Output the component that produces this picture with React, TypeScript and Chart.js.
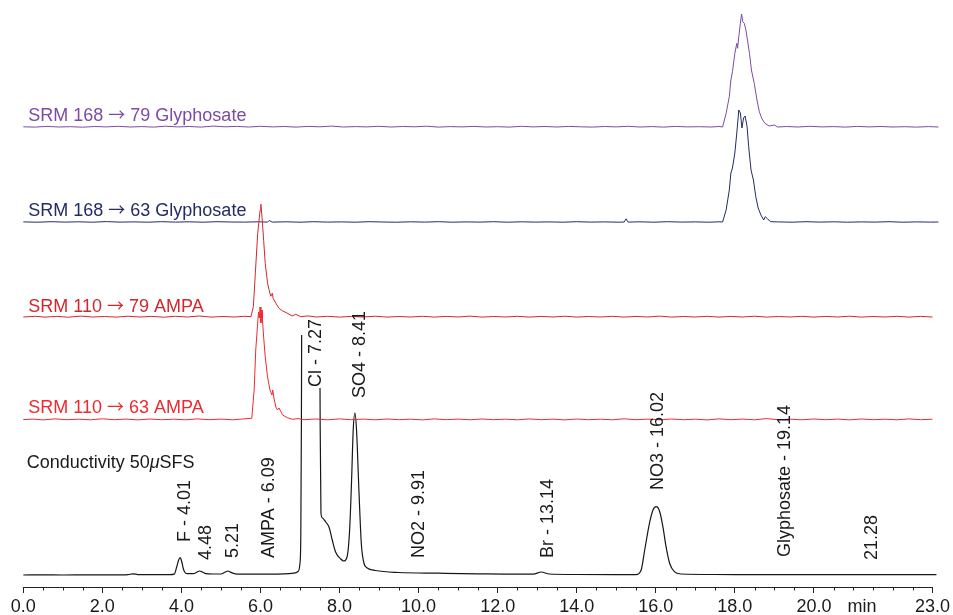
import React, { useEffect, useRef } from 'react';
import { Chart, registerables } from 'chart.js';

Chart.register(...registerables);

const FONT = '"Liberation Sans", Arial, Helvetica, sans-serif';
const ARROW_FONT = '"Noto Sans CJK JP", "DejaVu Sans", sans-serif';

// x axis ticks (minutes)
const majorTicks = [0, 2, 4, 6, 8, 10, 12, 14, 16, 18, 20, 23];
const unitLabelAt = 21.22;
const minorStep = 0.5;

// baseline (vertical offset) of each stacked trace, in plot units
const offsetCond = 12;
const offsetAmpa63 = 167;
const offsetAmpa79 = 269.7;
const offsetGly63 = 364.7;
const offsetGly79 = 459.7;

// Conductivity trace [time, signal]
const conductivity: [number, number][] = [
  [0, 0], [0.5, 0.1], [1.0, 0], [1.5, 0.1], [2.0, 0.2], [2.5, 0.2], [2.65, 0.4], [2.77, 1.2], [2.9, 0.4],
  [3.3, 0.3], [3.7, 0.4], [3.82, 0.9], [3.88, 8], [3.93, 15], [3.97, 17.3], [4.01, 13], [4.05, 6], [4.09, 2.5],
  [4.14, 1.4], [4.3, 1.3], [4.4, 3], [4.46, 4], [4.53, 3], [4.62, 1.4], [4.8, 1.0], [5.0, 1.0], [5.1, 2.8],
  [5.18, 4], [5.25, 2.6], [5.36, 1.2], [5.7, 0.9], [6.2, 0.9], [6.6, 1.1], [6.85, 1.8], [6.95, 3.5], [7.0, 12],
  [7.02, 40], [7.035, 150], [7.05, 320], [7.49, 320], [7.51, 150], [7.53, 62], [7.57, 57], [7.65, 53],
  [7.733, 48], [7.816, 35], [7.9, 23], [8.03, 16], [8.11, 14], [8.19, 18], [8.255, 45], [8.305, 95],
  [8.346, 145], [8.389, 162], [8.43, 145], [8.49, 85], [8.55, 32], [8.616, 12], [8.7, 7], [8.91, 4.5],
  [9.5, 2.5], [10.5, 1.8], [11.5, 1.2], [12.5, 0.8], [12.9, 0.8], [13.1, 3], [13.3, 1.0], [14, 0.5],
  [15, 0.4], [15.5, 0.4], [15.63, 5], [15.72, 25], [15.84, 51.7], [15.93, 65], [16.01, 68.3], [16.10, 63.3],
  [16.18, 48.3], [16.26, 28.3], [16.35, 11.7], [16.47, 3.3], [16.64, 1], [17.5, 0.5], [19, 0.4], [20.5, 0.4],
  [22, 0.3], [23.1, 0.3],
];

// SRM 110 -> 63 AMPA
const ampa63: [number, number][] = [
  [0, 0.4], [0.25, 0.9], [0.5, 0.1], [0.8, 1.1], [1.1, 0.3], [1.4, 0.8], [1.7, 0.2], [2.0, 1.2], [2.3, 0.3],
  [2.6, 0.9], [2.9, 0.1], [3.2, 1.0], [3.5, 0.3], [3.8, 0.8], [4.1, 0.2], [4.4, 1.1], [4.7, 0.3], [5.0, 0.9],
  [5.3, 0.2], [5.55, 1.0], [5.78, 1.7], [5.84, 30], [5.88, 70], [5.93, 97], [5.95, 108], [5.97, 102],
  [5.99, 113], [6.01, 97], [6.04, 110], [6.05, 100], [6.08, 83], [6.12, 63], [6.18, 43], [6.24, 30],
  [6.29, 25], [6.31, 30], [6.34, 22], [6.39, 13], [6.43, 10], [6.47, 12], [6.56, 5], [6.68, 2.3], [6.81, 0.7],
  [6.95, 1.4], [7.1, 0.3], [7.4, 1.0], [7.7, 0.2], [8.0, 1.1], [8.3, 0.3], [8.6, 0.9], [8.9, 0.2], [9.2, 1.0],
  [9.5, 0.3], [9.8, 0.8], [10.1, 0.1], [10.4, 1.1], [10.7, 0.3], [11.0, 0.9], [11.3, 0.2], [11.6, 1.0],
  [11.9, 0.3], [12.2, 0.8], [12.5, 0.2], [12.8, 1.1], [13.1, 0.3], [13.4, 0.9], [13.7, 0.1], [14.0, 1.0],
  [14.3, 0.3], [14.6, 0.8], [14.9, 0.2], [15.2, 1.2], [15.5, 0.3], [15.8, 0.9], [16.1, 0.2], [16.4, 1.0],
  [16.7, 0.3], [17.0, 0.8], [17.3, 0.1], [17.6, 1.1], [17.9, 0.3], [18.2, 0.9], [18.5, 0.2], [18.8, 1.4],
  [19.1, 0.3], [19.4, 0.8], [19.7, 0.2], [20.0, 1.0], [20.3, 0.3], [20.6, 0.9], [20.9, 0.1], [21.2, 1.0],
  [21.5, 0.3], [21.8, 0.8], [22.1, 0.2], [22.4, 1.1], [22.7, 0.3], [23.0, 0.8], [23.15, 0.4],
];

// SRM 110 -> 79 AMPA
const ampa79: [number, number][] = [
  [0, 0.3], [0.3, 1.0], [0.55, 0.2], [0.85, 0.9], [1.15, 0.1], [1.45, 1.2], [1.75, 0.3], [2.05, 0.8],
  [2.35, 0.2], [2.65, 1.1], [2.95, 0.3], [3.25, 0.9], [3.55, 0.1], [3.85, 1.0], [4.15, 0.3], [4.45, 1.3],
  [4.75, 0.2], [5.05, 0.8], [5.35, 0.3], [5.6, 1.0], [5.76, 0.6], [5.82, 10.6], [5.87, 44], [5.93, 84],
  [5.99, 107], [6.01, 113], [6.04, 100], [6.08, 77], [6.12, 54], [6.18, 34], [6.22, 27], [6.26, 21],
  [6.30, 24], [6.32, 19], [6.39, 14], [6.47, 9], [6.55, 6.6], [6.67, 4.3], [6.80, 1.3], [6.89, 3], [7.02, 0.6],
  [7.2, 1.4], [7.4, 0.3], [7.7, 1.0], [8.0, 0.2], [8.3, 0.9], [8.6, 0.3], [8.9, 1.1], [9.2, 0.2], [9.5, 0.8],
  [9.8, 0.3], [10.1, 1.0], [10.4, 0.2], [10.7, 0.9], [11.0, 0.3], [11.3, 1.2], [11.6, 0.2], [11.9, 0.8],
  [12.2, 0.3], [12.5, 1.0], [12.8, 0.2], [13.1, 0.9], [13.4, 0.3], [13.7, 1.1], [14.0, 0.2], [14.3, 0.8],
  [14.6, 0.3], [14.9, 1.0], [15.2, 0.2], [15.5, 0.9], [15.8, 0.3], [16.1, 1.2], [16.4, 0.2], [16.7, 0.8],
  [17.0, 0.3], [17.3, 1.0], [17.6, 0.2], [17.9, 0.9], [18.2, 0.3], [18.5, 1.1], [18.8, 0.2], [19.1, 0.8],
  [19.4, 0.3], [19.7, 1.0], [20.0, 0.2], [20.3, 0.9], [20.6, 0.3], [20.9, 1.1], [21.2, 0.2], [21.5, 0.8],
  [21.8, 0.3], [22.1, 1.0], [22.4, 0.2], [22.7, 0.9], [23.0, 0.3], [23.15, 0.5],
];

// SRM 168 -> 63 Glyphosate
const gly63: [number, number][] = [
  [0, 0.4], [0.35, 0.1], [0.7, 0.6], [1.05, 0.2], [1.4, 0.5], [1.75, 0.1], [2.1, 0.7], [2.45, 0.2], [2.8, 0.4],
  [3.15, 0.1], [3.5, 0.6], [3.85, 0.2], [4.2, 0.5], [4.55, 0.1], [4.9, 0.6], [5.25, 0.3], [5.6, 0.2],
  [5.95, 0.5], [6.18, 0.2], [6.22, 1.8], [6.3, 0.2], [6.65, 0.5], [7.0, 0.1], [7.35, 0.6], [7.7, 0.2],
  [8.05, 0.4], [8.4, 0.1], [8.75, 0.6], [9.1, 0.3], [9.45, 0.1], [9.8, 0.5], [10.15, 0.2], [10.5, 0.6],
  [10.85, 0.1], [11.2, 0.4], [11.55, 0.2], [11.9, 0.6], [12.25, 0.1], [12.6, 0.5], [12.95, 0.2], [13.3, 0.4],
  [13.65, 0.1], [14.0, 0.6], [14.35, 0.2], [14.7, 0.4], [15.05, 0.1], [15.2, 0.3], [15.25, 3.5], [15.3, 0.2],
  [15.6, 0.5], [15.95, 0.1], [16.3, 0.6], [16.65, 0.2], [17.0, 0.4], [17.35, 0.1], [17.6, 0.5],
  [17.69, 0.3], [17.78, 12.3], [17.86, 32.3], [17.90, 49.3], [17.94, 54.3], [18.00, 69.3], [18.05, 89.3],
  [18.10, 112.3], [18.14, 109.3], [18.18, 94.3], [18.22, 104.3], [18.26, 106.3], [18.31, 95.6], [18.35, 75.6],
  [18.41, 52.3], [18.47, 42.3], [18.53, 25.6], [18.59, 14.3], [18.66, 7.3], [18.73, 2.3], [18.77, 5.6],
  [18.83, 3.3], [18.91, 0.6], [19.1, 0.4], [19.45, 0.1], [19.8, 0.6], [20.15, 0.2], [20.5, 0.5], [20.85, 0.1],
  [21.2, 0.4], [21.55, 0.2], [21.9, 0.6], [22.25, 0.1], [22.6, 0.4], [22.95, 0.2], [23.15, 0.3],
];

// SRM 168 -> 79 Glyphosate
const gly79: [number, number][] = [
  [0, 0.5], [0.3, 0.2], [0.6, 0.9], [0.9, 0.3], [1.2, 0.6], [1.5, 0.1], [1.8, 0.8], [2.1, 0.4], [2.4, 1.0],
  [2.7, 0.3], [3.0, 0.7], [3.3, 0.2], [3.6, 1.1], [3.9, 0.4], [4.2, 0.8], [4.5, 0.2], [4.8, 1.2], [5.1, 0.5],
  [5.4, 0.9], [5.7, 0.3], [6.0, 1.0], [6.3, 0.4], [6.6, 0.8], [6.9, 0.2], [7.2, 0.9], [7.5, 0.5], [7.8, 1.2],
  [8.1, 0.3], [8.4, 0.7], [8.7, 0.4], [9.0, 1.0], [9.3, 0.3], [9.6, 0.8], [9.9, 0.5], [10.2, 1.1], [10.5, 0.2],
  [10.8, 0.7], [11.1, 0.4], [11.4, 0.9], [11.7, 0.3], [12.0, 0.6], [12.3, 0.2], [12.6, 1.0], [12.9, 0.4],
  [13.2, 0.8], [13.5, 0.3], [13.8, 0.9], [14.1, 0.5], [14.4, 0.2], [14.7, 0.8], [15.0, 0.4], [15.3, 1.0],
  [15.6, 0.3], [15.9, 0.7], [16.2, 0.2], [16.5, 0.9], [16.8, 0.4], [17.1, 0.6], [17.4, 0.3], [17.6, 0.8],
  [17.69, 0.3], [17.78, 14], [17.86, 30.6], [17.90, 47.3], [17.94, 55.6], [18.00, 74], [18.05, 84],
  [18.07, 79], [18.10, 90.6], [18.14, 104], [18.17, 113.3], [18.20, 105.6], [18.24, 104], [18.28, 97.3],
  [18.32, 87.3], [18.37, 74], [18.42, 57.3], [18.49, 44], [18.56, 27.3], [18.62, 15.6], [18.68, 9],
  [18.76, 4], [18.87, 1.3], [19.0, 2.3], [19.08, 0.3], [19.3, 0.8], [19.6, 0.3], [19.9, 1.0], [20.2, 0.4],
  [20.5, 0.7], [20.8, 0.2], [21.1, 0.9], [21.4, 0.4], [21.7, 0.8], [22.0, 0.3], [22.3, 0.6], [22.6, 0.2],
  [22.9, 0.7], [23.15, 0.3],
];

const colCond = '#161616';
const colAmpa63 = '#ee2a30';
const colAmpa79 = '#d3262d';
const colGly63 = '#232b68';
const colGly79 = '#7d4aa6';

// trace titles: [before arrow, after arrow, time, plot-y, colour]
const traceTitles: [string, string, number, number, string][] = [
  ['SRM 168 ', ' 79 Glyphosate', 0.126, 466, colGly79],
  ['SRM 168 ', ' 63 Glyphosate', 0.126, 371, colGly63],
  ['SRM 110 ', ' 79 AMPA', 0.126, 275, colAmpa79],
  ['SRM 110 ', ' 63 AMPA', 0.126, 174, colAmpa63],
];
const arrowGlyph = '→';
const condTitle = ['Conductivity 50', 'μ', 'SFS'];
const condTitlePos: [number, number] = [0.085, 119.3];

// peak annotations: [text, time, plot-y of text start]
const peakLabels: [string, number, number][] = [
  ['F - 4.01', 4.10, 45],
  ['4.48', 4.61, 27],
  ['5.21', 5.31, 29],
  ['AMPA - 6.09', 6.22, 29],
  ['Cl - 7.27', 7.398, 200],
  ['SO4 - 8.41', 8.53, 189],
  ['NO2 - 9.91', 10.0, 29],
  ['Br - 13.14', 13.28, 29],
  ['NO3 - 16.02', 16.05, 97],
  ['Glyphosate - 19.14', 19.28, 30],
  ['21.28', 21.47, 27],
];

const annotPlugin = {
  id: 'annot',
  afterDatasetDraw(chart: any, args: any) {
    if (args.index !== 0) return;
    const ctx = chart.ctx;
    const xs = chart.scales.x;
    const ys = chart.scales.y;
    ctx.save();
    ctx.font = `18px ${FONT}`;
    ctx.fillStyle = '#ffffff';
    for (const [text, t, v] of peakLabels) {
      const w = ctx.measureText(text).width;
      const cx = xs.getPixelForValue(t);
      const by = ys.getPixelForValue(v);
      ctx.fillRect(cx - 7, by - w - 1, 14, w + 2);
    }
    ctx.restore();
  },
  afterDatasetsDraw(chart: any) {
    const ctx = chart.ctx;
    const xs = chart.scales.x;
    const ys = chart.scales.y;
    const area = chart.chartArea;
    ctx.save();
    ctx.textAlign = 'left';
    ctx.textBaseline = 'alphabetic';
    for (const [a, b, t, v, c] of traceTitles) {
      ctx.fillStyle = c;
      let x = xs.getPixelForValue(t);
      const y = ys.getPixelForValue(v);
      ctx.font = `18px ${FONT}`;
      ctx.fillText(a, x, y);
      x += ctx.measureText(a).width;
      ctx.font = `17px ${ARROW_FONT}`;
      ctx.fillText(arrowGlyph, x, y);
      x += ctx.measureText(arrowGlyph).width;
      ctx.font = `18px ${FONT}`;
      ctx.fillText(b, x, y);
    }
    // conductivity title with italic mu
    let x = xs.getPixelForValue(condTitlePos[0]);
    const y = ys.getPixelForValue(condTitlePos[1]);
    ctx.fillStyle = '#1a1a1a';
    condTitle.forEach((part, i) => {
      ctx.font = i === 1 ? `italic 18px ${FONT}` : `18px ${FONT}`;
      ctx.fillText(part, x, y);
      x += ctx.measureText(part).width;
    });
    // rotated peak labels
    ctx.font = `18px ${FONT}`;
    ctx.fillStyle = '#1a1a1a';
    ctx.textBaseline = 'middle';
    for (const [text, t, v] of peakLabels) {
      ctx.save();
      ctx.translate(xs.getPixelForValue(t), ys.getPixelForValue(v));
      ctx.rotate(-Math.PI / 2);
      ctx.fillText(text, 0, 0);
      ctx.restore();
    }
    // minor ticks
    ctx.strokeStyle = '#222';
    ctx.lineWidth = 1;
    ctx.beginPath();
    for (let t = 0; t <= 23 + 1e-9; t += minorStep) {
      if (majorTicks.some((m) => Math.abs(m - t) < 1e-6)) continue;
      const px = Math.round(xs.getPixelForValue(t)) + 0.5;
      ctx.moveTo(px, area.bottom);
      ctx.lineTo(px, area.bottom + 3.5);
    }
    ctx.stroke();
    ctx.restore();
  },
};

export default function App() {
  const ref = useRef<HTMLCanvasElement>(null);
  useEffect(() => {
    const canvas = ref.current;
    if (!canvas) return;
    const mk = (pts: [number, number][], off: number) => pts.map(([x, y]) => ({ x, y: y + off }));
    const softClip = { left: 5, right: 10, top: 20, bottom: 5 };
    const chart = new Chart(canvas, {
      type: 'line',
      data: {
        datasets: [
          {
            label: 'Conductivity',
            data: mk(conductivity, offsetCond),
            borderColor: colCond,
            borderWidth: 1.2,
            cubicInterpolationMode: 'monotone',
            order: 10,
            clip: { left: 5, right: 10, top: -325, bottom: 5 },
          },
          { label: 'SRM 110 → 63 AMPA', data: mk(ampa63, offsetAmpa63), borderColor: colAmpa63, borderWidth: 1, tension: 0, order: 1, clip: softClip },
          { label: 'SRM 110 → 79 AMPA', data: mk(ampa79, offsetAmpa79), borderColor: colAmpa79, borderWidth: 1, tension: 0, order: 2, clip: softClip },
          { label: 'SRM 168 → 63 Glyphosate', data: mk(gly63, offsetGly63), borderColor: colGly63, borderWidth: 1, tension: 0, order: 3, clip: softClip },
          { label: 'SRM 168 → 79 Glyphosate', data: mk(gly79, offsetGly79), borderColor: colGly79, borderWidth: 1, tension: 0, order: 4, clip: softClip },
        ] as any,
      },
      options: {
        animation: false,
        responsive: true,
        maintainAspectRatio: false,
        layout: { padding: { left: 23.3, right: 19, top: 10, bottom: 0 } },
        elements: { point: { radius: 0, hoverRadius: 0 }, line: { fill: false } },
        plugins: { legend: { display: false }, tooltip: { enabled: false } },
        events: [],
        scales: {
          x: {
            type: 'linear',
            min: 0,
            max: 23,
            afterBuildTicks: (s: any) => {
              s.ticks = [...majorTicks, unitLabelAt].sort((a, b) => a - b).map((v) => ({ value: v }));
            },
            afterFit: (s: any) => {
              s.height = 28;
            },
            ticks: {
              autoSkip: false,
              maxRotation: 0,
              padding: 3,
              color: '#1a1a1a',
              font: { family: FONT, size: 18 },
              callback: (v: any) => (Math.abs(Number(v) - unitLabelAt) < 1e-6 ? 'min' : Number(v).toFixed(1)),
            },
            grid: {
              drawOnChartArea: false,
              drawTicks: true,
              tickLength: 6,
              lineWidth: 1,
              color: (c: any) => (c.tick && Math.abs(c.tick.value - unitLabelAt) < 1e-6 ? 'rgba(0,0,0,0)' : '#222'),
            },
            border: { display: true, color: '#222', width: 1 },
          },
          y: { type: 'linear', display: false, min: 0, max: 577 },
        },
      } as any,
      plugins: [annotPlugin],
    });
    return () => chart.destroy();
  }, []);
  return (
    <div style={{ position: 'absolute', left: 0, top: 0, width: 953, height: 615, background: '#ffffff' }}>
      <canvas ref={ref} />
    </div>
  );
}
